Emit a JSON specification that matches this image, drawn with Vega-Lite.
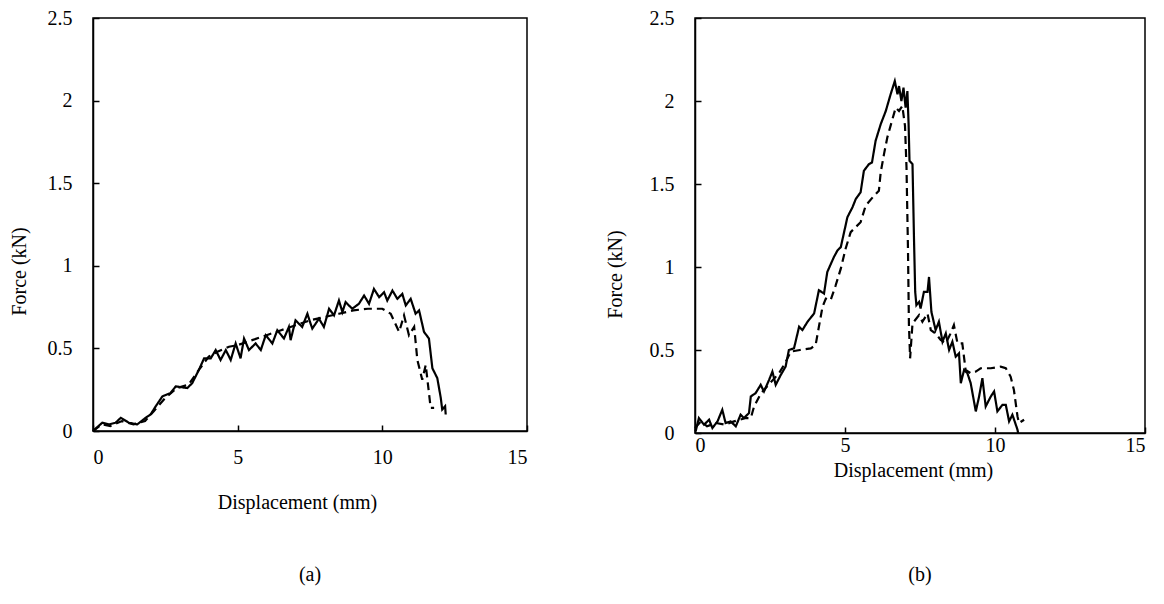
{
 "$schema": "https://vega.github.io/schema/vega-lite/v6.json",
 "background": "white",
 "padding": {"left": 8, "top": 7, "right": 5, "bottom": 5},
 "autosize": {"type": "pad"},
 "bounds": "flush",
 "spacing": 168,
 "config": {
  "font": "Liberation Serif",
  "view": {"stroke": "black", "strokeWidth": 1.5},
  "axis": {"grid": false, "domainColor": "black", "domainWidth": 1.5, "tickColor": "black", "tickWidth": 1.5, "tickSize": -6,
   "labelColor": "black", "labelFont": "Liberation Serif", "labelFontSize": 20, "format": "~g",
   "titleFont": "Liberation Serif", "titleFontSize": 20, "titleFontWeight": "normal", "titleColor": "black"},
  "title": {"font": "Liberation Serif", "fontSize": 20, "fontWeight": "normal", "color": "black"}
 },
 "datasets": {
  "a": [
   {"s":1,"d":0.0,"f":0.0},{"s":1,"d":0.32,"f":0.05},{"s":1,"d":0.55,"f":0.04},{"s":1,"d":0.78,"f":0.05},{"s":1,"d":0.96,"f":0.08},{"s":1,"d":1.24,"f":0.05},{"s":1,"d":1.53,"f":0.04},{"s":1,"d":1.82,"f":0.08},{"s":1,"d":1.99,"f":0.10},{"s":1,"d":2.17,"f":0.15},{"s":1,"d":2.40,"f":0.21},{"s":1,"d":2.68,"f":0.23},{"s":1,"d":2.86,"f":0.27},{"s":1,"d":3.26,"f":0.26},{"s":1,"d":3.43,"f":0.29},{"s":1,"d":3.66,"f":0.37},{"s":1,"d":3.84,"f":0.44},{"s":1,"d":4.07,"f":0.44},{"s":1,"d":4.24,"f":0.49},{"s":1,"d":4.41,"f":0.43},{"s":1,"d":4.59,"f":0.49},{"s":1,"d":4.76,"f":0.43},{"s":1,"d":4.93,"f":0.53},{"s":1,"d":5.10,"f":0.44},{"s":1,"d":5.22,"f":0.56},{"s":1,"d":5.39,"f":0.49},{"s":1,"d":5.62,"f":0.53},{"s":1,"d":5.80,"f":0.49},{"s":1,"d":5.97,"f":0.58},{"s":1,"d":6.20,"f":0.53},{"s":1,"d":6.37,"f":0.61},{"s":1,"d":6.60,"f":0.56},{"s":1,"d":6.77,"f":0.63},{"s":1,"d":6.83,"f":0.55},{"s":1,"d":7.00,"f":0.67},{"s":1,"d":7.23,"f":0.63},{"s":1,"d":7.41,"f":0.71},{"s":1,"d":7.50,"f":0.66},{"s":1,"d":7.58,"f":0.62},{"s":1,"d":7.81,"f":0.68},{"s":1,"d":7.98,"f":0.63},{"s":1,"d":8.16,"f":0.74},{"s":1,"d":8.33,"f":0.70},{"s":1,"d":8.50,"f":0.79},{"s":1,"d":8.62,"f":0.72},{"s":1,"d":8.73,"f":0.78},{"s":1,"d":8.96,"f":0.74},{"s":1,"d":9.19,"f":0.77},{"s":1,"d":9.37,"f":0.82},{"s":1,"d":9.54,"f":0.77},{"s":1,"d":9.71,"f":0.86},{"s":1,"d":9.89,"f":0.81},{"s":1,"d":10.06,"f":0.84},{"s":1,"d":10.17,"f":0.79},{"s":1,"d":10.35,"f":0.85},{"s":1,"d":10.52,"f":0.80},{"s":1,"d":10.69,"f":0.83},{"s":1,"d":10.81,"f":0.76},{"s":1,"d":10.98,"f":0.80},{"s":1,"d":11.15,"f":0.71},{"s":1,"d":11.27,"f":0.73},{"s":1,"d":11.44,"f":0.60},{"s":1,"d":11.61,"f":0.56},{"s":1,"d":11.73,"f":0.38},{"s":1,"d":11.90,"f":0.32},{"s":1,"d":12.02,"f":0.20},{"s":1,"d":12.07,"f":0.13},{"s":1,"d":12.17,"f":0.15},{"s":1,"d":12.19,"f":0.10},
   {"s":2,"d":0.0,"f":0.0},{"s":2,"d":0.3,"f":0.04},{"s":2,"d":0.6,"f":0.03},{"s":2,"d":1.0,"f":0.06},{"s":2,"d":1.4,"f":0.04},{"s":2,"d":1.8,"f":0.06},{"s":2,"d":2.1,"f":0.12},{"s":2,"d":2.5,"f":0.20},{"s":2,"d":2.9,"f":0.26},{"s":2,"d":3.3,"f":0.28},{"s":2,"d":3.7,"f":0.38},{"s":2,"d":4.0,"f":0.45},{"s":2,"d":4.3,"f":0.48},{"s":2,"d":4.7,"f":0.51},{"s":2,"d":5.0,"f":0.52},{"s":2,"d":5.5,"f":0.55},{"s":2,"d":6.0,"f":0.58},{"s":2,"d":6.5,"f":0.61},{"s":2,"d":7.0,"f":0.64},{"s":2,"d":7.5,"f":0.67},{"s":2,"d":8.0,"f":0.69},{"s":2,"d":8.5,"f":0.71},{"s":2,"d":9.0,"f":0.73},{"s":2,"d":9.5,"f":0.74},{"s":2,"d":10.0,"f":0.74},{"s":2,"d":10.29,"f":0.71},{"s":2,"d":10.58,"f":0.60},{"s":2,"d":10.75,"f":0.70},{"s":2,"d":10.92,"f":0.58},{"s":2,"d":11.10,"f":0.63},{"s":2,"d":11.21,"f":0.43},{"s":2,"d":11.38,"f":0.31},{"s":2,"d":11.50,"f":0.40},{"s":2,"d":11.67,"f":0.14},{"s":2,"d":11.79,"f":0.14}
  ],
  "b": [
   {"s":1,"d":0.02,"f":0.01},{"s":1,"d":0.13,"f":0.09},{"s":1,"d":0.30,"f":0.05},{"s":1,"d":0.47,"f":0.08},{"s":1,"d":0.58,"f":0.03},{"s":1,"d":0.75,"f":0.07},{"s":1,"d":0.91,"f":0.14},{"s":1,"d":1.02,"f":0.06},{"s":1,"d":1.19,"f":0.07},{"s":1,"d":1.36,"f":0.04},{"s":1,"d":1.52,"f":0.11},{"s":1,"d":1.63,"f":0.09},{"s":1,"d":1.80,"f":0.12},{"s":1,"d":1.86,"f":0.22},{"s":1,"d":2.02,"f":0.24},{"s":1,"d":2.19,"f":0.29},{"s":1,"d":2.30,"f":0.25},{"s":1,"d":2.47,"f":0.32},{"s":1,"d":2.58,"f":0.37},{"s":1,"d":2.69,"f":0.29},{"s":1,"d":2.86,"f":0.35},{"s":1,"d":3.02,"f":0.40},{"s":1,"d":3.13,"f":0.50},{"s":1,"d":3.30,"f":0.51},{"s":1,"d":3.47,"f":0.64},{"s":1,"d":3.58,"f":0.62},{"s":1,"d":3.75,"f":0.67},{"s":1,"d":3.97,"f":0.72},{"s":1,"d":4.13,"f":0.86},{"s":1,"d":4.30,"f":0.84},{"s":1,"d":4.41,"f":0.97},{"s":1,"d":4.63,"f":1.06},{"s":1,"d":4.75,"f":1.10},{"s":1,"d":4.86,"f":1.12},{"s":1,"d":5.08,"f":1.30},{"s":1,"d":5.25,"f":1.36},{"s":1,"d":5.36,"f":1.41},{"s":1,"d":5.52,"f":1.45},{"s":1,"d":5.63,"f":1.58},{"s":1,"d":5.80,"f":1.62},{"s":1,"d":5.90,"f":1.63},{"s":1,"d":6.02,"f":1.76},{"s":1,"d":6.19,"f":1.86},{"s":1,"d":6.36,"f":1.94},{"s":1,"d":6.52,"f":2.04},{"s":1,"d":6.66,"f":2.12},{"s":1,"d":6.75,"f":2.04},{"s":1,"d":6.80,"f":2.09},{"s":1,"d":6.88,"f":2.00},{"s":1,"d":6.95,"f":2.08},{"s":1,"d":7.02,"f":1.96},{"s":1,"d":7.08,"f":2.06},{"s":1,"d":7.12,"f":1.86},{"s":1,"d":7.15,"f":1.64},{"s":1,"d":7.25,"f":1.62},{"s":1,"d":7.30,"f":1.17},{"s":1,"d":7.34,"f":0.85},{"s":1,"d":7.38,"f":0.77},{"s":1,"d":7.47,"f":0.79},{"s":1,"d":7.52,"f":0.75},{"s":1,"d":7.63,"f":0.85},{"s":1,"d":7.75,"f":0.85},{"s":1,"d":7.80,"f":0.94},{"s":1,"d":7.88,"f":0.73},{"s":1,"d":8.02,"f":0.62},{"s":1,"d":8.13,"f":0.67},{"s":1,"d":8.25,"f":0.55},{"s":1,"d":8.36,"f":0.60},{"s":1,"d":8.47,"f":0.50},{"s":1,"d":8.58,"f":0.55},{"s":1,"d":8.69,"f":0.46},{"s":1,"d":8.80,"f":0.48},{"s":1,"d":8.86,"f":0.30},{"s":1,"d":8.97,"f":0.38},{"s":1,"d":9.08,"f":0.36},{"s":1,"d":9.19,"f":0.30},{"s":1,"d":9.36,"f":0.13},{"s":1,"d":9.47,"f":0.22},{"s":1,"d":9.58,"f":0.33},{"s":1,"d":9.69,"f":0.16},{"s":1,"d":9.86,"f":0.22},{"s":1,"d":9.97,"f":0.25},{"s":1,"d":10.08,"f":0.13},{"s":1,"d":10.25,"f":0.17},{"s":1,"d":10.36,"f":0.17},{"s":1,"d":10.47,"f":0.07},{"s":1,"d":10.58,"f":0.11},{"s":1,"d":10.75,"f":0.02},{"s":1,"d":10.77,"f":0.0},
   {"s":2,"d":0.0,"f":0.03},{"s":2,"d":0.2,"f":0.07},{"s":2,"d":0.4,"f":0.04},{"s":2,"d":0.7,"f":0.06},{"s":2,"d":1.0,"f":0.05},{"s":2,"d":1.3,"f":0.07},{"s":2,"d":1.69,"f":0.09},{"s":2,"d":1.86,"f":0.09},{"s":2,"d":1.97,"f":0.16},{"s":2,"d":2.2,"f":0.24},{"s":2,"d":2.5,"f":0.30},{"s":2,"d":2.8,"f":0.36},{"s":2,"d":3.0,"f":0.42},{"s":2,"d":3.19,"f":0.49},{"s":2,"d":3.5,"f":0.50},{"s":2,"d":3.86,"f":0.51},{"s":2,"d":4.02,"f":0.53},{"s":2,"d":4.13,"f":0.64},{"s":2,"d":4.25,"f":0.76},{"s":2,"d":4.36,"f":0.81},{"s":2,"d":4.52,"f":0.80},{"s":2,"d":4.69,"f":0.89},{"s":2,"d":4.86,"f":0.99},{"s":2,"d":5.02,"f":1.11},{"s":2,"d":5.19,"f":1.21},{"s":2,"d":5.52,"f":1.27},{"s":2,"d":5.69,"f":1.37},{"s":2,"d":5.97,"f":1.43},{"s":2,"d":6.13,"f":1.46},{"s":2,"d":6.19,"f":1.57},{"s":2,"d":6.30,"f":1.68},{"s":2,"d":6.41,"f":1.78},{"s":2,"d":6.58,"f":1.89},{"s":2,"d":6.69,"f":1.96},{"s":2,"d":6.80,"f":1.94},{"s":2,"d":6.91,"f":1.97},{"s":2,"d":7.00,"f":1.85},{"s":2,"d":7.05,"f":1.60},{"s":2,"d":7.10,"f":1.10},{"s":2,"d":7.13,"f":0.66},{"s":2,"d":7.17,"f":0.45},{"s":2,"d":7.25,"f":0.66},{"s":2,"d":7.47,"f":0.71},{"s":2,"d":7.58,"f":0.67},{"s":2,"d":7.75,"f":0.72},{"s":2,"d":7.86,"f":0.62},{"s":2,"d":8.02,"f":0.60},{"s":2,"d":8.19,"f":0.56},{"s":2,"d":8.36,"f":0.54},{"s":2,"d":8.52,"f":0.60},{"s":2,"d":8.63,"f":0.65},{"s":2,"d":8.75,"f":0.54},{"s":2,"d":8.91,"f":0.54},{"s":2,"d":9.02,"f":0.38},{"s":2,"d":9.19,"f":0.36},{"s":2,"d":9.36,"f":0.37},{"s":2,"d":9.52,"f":0.39},{"s":2,"d":9.86,"f":0.39},{"s":2,"d":10.19,"f":0.40},{"s":2,"d":10.36,"f":0.39},{"s":2,"d":10.52,"f":0.34},{"s":2,"d":10.63,"f":0.26},{"s":2,"d":10.75,"f":0.10},{"s":2,"d":10.80,"f":0.06},{"s":2,"d":10.97,"f":0.08}
  ]
 },
 "hconcat": [
  {
   "width": 434, "height": 413,
   "data": {"name": "a"},
   "title": {"text": "(a)", "orient": "bottom", "offset": 53},
   "mark": {"type": "line", "color": "black", "strokeWidth": 2.2},
   "encoding": {
    "x": {"field": "d", "type": "quantitative", "scale": {"domain": [0, 15]},
     "axis": {"values": [0, 5, 10, 15], "title": "Displacement (mm)", "labelPadding": 22, "titlePadding": 25, "titleX": 204}},
    "y": {"field": "f", "type": "quantitative", "scale": {"domain": [0, 2.5]},
     "axis": {"values": [0, 0.5, 1, 1.5, 2, 2.5], "title": "Force (kN)", "labelPadding": 27, "titlePadding": 18, "titleY": 253}},
    "strokeDash": {"field": "s", "type": "nominal", "scale": {"domain": [1, 2], "range": [[1, 0], [8, 5]]}, "legend": null}
   }
  },
  {
   "width": 450, "height": 415,
   "data": {"name": "b"},
   "title": {"text": "(b)", "orient": "bottom", "offset": 85},
   "mark": {"type": "line", "color": "black", "strokeWidth": 2.2},
   "encoding": {
    "x": {"field": "d", "type": "quantitative", "scale": {"domain": [0, 15]},
     "axis": {"values": [0, 5, 10, 15], "title": "Displacement (mm)", "labelPadding": 8, "titlePadding": 5, "titleX": 218}},
    "y": {"field": "f", "type": "quantitative", "scale": {"domain": [0, 2.5]},
     "axis": {"values": [0, 0.5, 1, 1.5, 2, 2.5], "title": "Force (kN)", "labelPadding": 27, "titlePadding": 24, "titleY": 256}},
    "strokeDash": {"field": "s", "type": "nominal", "scale": {"domain": [1, 2], "range": [[1, 0], [8, 5]]}, "legend": null}
   }
  }
 ]
}
